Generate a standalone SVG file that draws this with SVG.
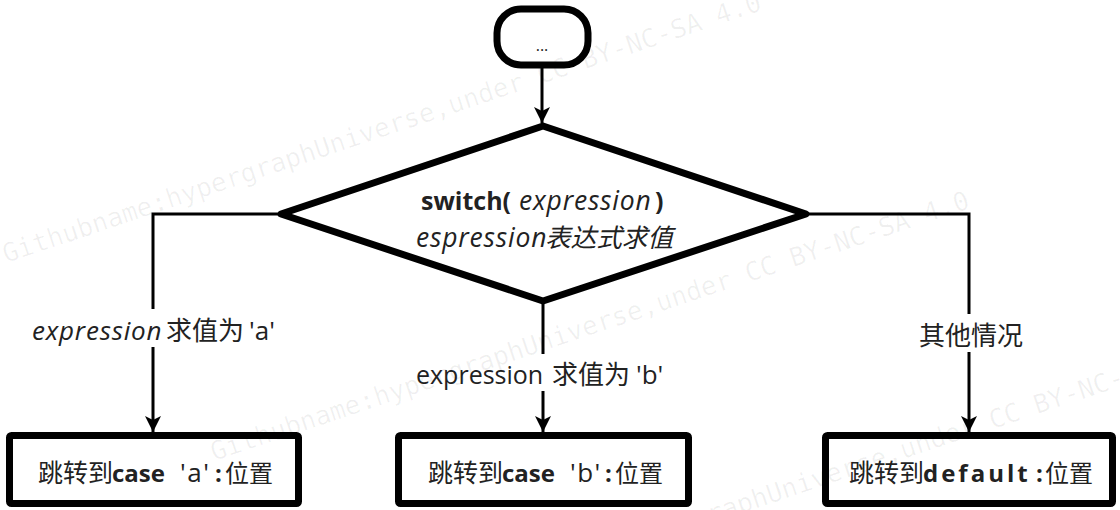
<svg xmlns="http://www.w3.org/2000/svg" width="1120" height="510" viewBox="0 0 1120 510">
<defs>
<style>
.node{fill:#fff;stroke:#000;stroke-width:7;stroke-linejoin:round}
.conn{fill:none;stroke:#000;stroke-width:3}
.t{font-family:"Open Sans","Noto Sans CJK SC",sans-serif;font-size:24px;fill:#222}
.b{font-weight:bold}
.i{font-style:italic}
.bg{fill:#fff}
.wm{font-family:"DejaVu Sans Mono",monospace;font-size:26px;fill:#000;fill-opacity:0.06}
</style>
<marker id="arr" markerUnits="userSpaceOnUse" markerWidth="18" markerHeight="16" refX="16" refY="8" orient="auto">
<path d="M0,0 L16,8 L0,16 L4,8 z" fill="#000"/>
</marker>
</defs>
<rect width="1120" height="510" fill="#fff"/>
<g id="connectors">
<line class="conn" x1="542" y1="68" x2="542" y2="123" marker-end="url(#arr)"/>
<polyline class="conn" points="280,214 153,214 153,432" marker-end="url(#arr)"/>
<line class="conn" x1="543" y1="303" x2="543" y2="432" marker-end="url(#arr)"/>
<polyline class="conn" points="807,214 969,214 969,432" marker-end="url(#arr)"/>
<rect class="bg" x="28" y="309" width="258" height="38"/>
<text class="t" y="340"><tspan class="i" x="32" style="font-size:26px;letter-spacing:0.8px">expression</tspan><tspan x="166" style="font-size:26px">求值为</tspan><tspan x="249" style="font-size:26px">'a'</tspan></text>
<rect class="bg" x="412" y="354" width="262" height="37"/>
<text class="t" y="384"><tspan x="416" style="font-size:25px">expression</tspan><tspan x="552" style="font-size:26px">求值为</tspan><tspan x="636" style="font-size:26px">'b'</tspan></text>
<rect class="bg" x="916" y="314" width="110" height="38"/>
<text class="t" x="919" y="345" style="font-size:26px">其他情况</text>
</g>
<g id="start">
<rect class="node" x="497" y="9" width="91" height="56" rx="24"/>
<text class="t" x="542" y="51" style="font-size:16px;text-anchor:middle">...</text>
</g>
<g id="switch">
<polygon class="node" points="543,126 806,214 543,301 281,214"/>
<text class="t" y="210"><tspan class="b" x="421" style="font-size:25px">switch(</tspan><tspan class="i" x="519" style="font-size:26.5px;letter-spacing:0.8px">expression</tspan><tspan class="b" x="655" style="font-size:25px">)</tspan></text>
<text class="t i" y="247"><tspan x="416" style="font-size:26.5px;letter-spacing:0.8px">espression</tspan><tspan x="545" style="font-size:25.6px">表达式求值</tspan></text>
</g>
<g id="case-a">
<rect class="node" x="9.5" y="435.5" width="289" height="68" rx="2"/>
<text class="t" y="482"><tspan x="38" style="font-size:25px">跳转到</tspan><tspan class="b" x="112">case</tspan><tspan x="180" style="font-size:26px;letter-spacing:1.5px">'a'</tspan><tspan class="b" x="215">:</tspan><tspan x="225">位置</tspan></text>
</g>
<g id="case-b">
<rect class="node" x="398.5" y="435.5" width="290" height="68" rx="2"/>
<text class="t" y="482"><tspan x="428" style="font-size:25px">跳转到</tspan><tspan class="b" x="502">case</tspan><tspan x="570" style="font-size:26px;letter-spacing:1.5px">'b'</tspan><tspan class="b" x="605">:</tspan><tspan x="615">位置</tspan></text>
</g>
<g id="default">
<rect class="node" x="825.5" y="435.5" width="287" height="68" rx="2"/>
<text class="t" y="482"><tspan x="849" style="font-size:25px">跳转到</tspan><tspan class="b" x="923" style="letter-spacing:3px">default</tspan><tspan class="b" x="1036">:</tspan><tspan x="1045">位置</tspan></text>
</g>
<g id="watermark">
<text class="wm" transform="translate(6,263) rotate(-18.5)">Githubname:hypergraphUniverse,under CC BY-NC-SA 4.0</text>
<text class="wm" transform="translate(214,461) rotate(-18.5)">Githubname:hypergraphUniverse,under CC BY-NC-SA 4.0</text>
<text class="wm" transform="translate(458,608) rotate(-18.5)">Githubname:hypergraphUniverse,under CC BY-NC-SA 4.0</text>
</g>
</svg>
